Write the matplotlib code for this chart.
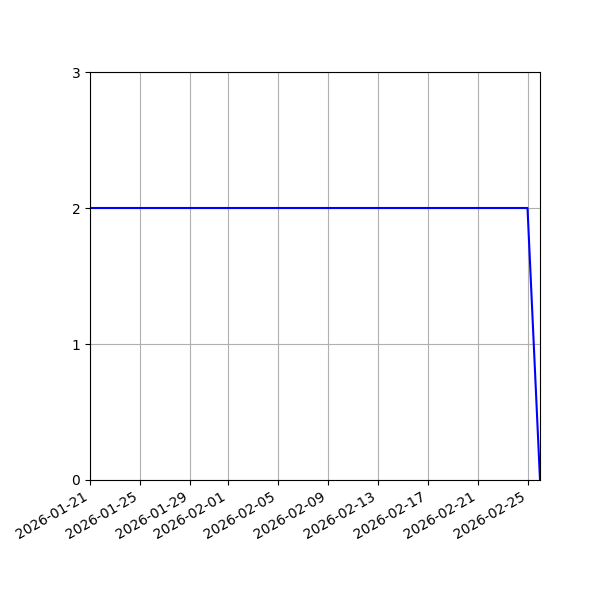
import matplotlib
matplotlib.use('Agg')
import matplotlib.pyplot as plt
import matplotlib.dates as mdates
from datetime import datetime

# readings taken off the chart
dates = ['2026-01-21', '2026-02-25', '2026-02-26']
values = [2, 2, 0]
y_ticks = [0, 1, 2, 3]

days = [datetime.strptime(d, '%Y-%m-%d') for d in dates]

fig, ax = plt.subplots(figsize=(6, 6), dpi=100)
ax.plot(days, values, color='blue')
ax.set_xlim(days[0], days[-1])
ax.set_ylim(0, 3)
ax.set_yticks(y_ticks)
ax.xaxis.set_major_locator(mdates.DayLocator(bymonthday=[1, 5, 9, 13, 17, 21, 25, 29]))
ax.xaxis.set_major_formatter(mdates.DateFormatter('%Y-%m-%d'))
ax.grid(True)
fig.autofmt_xdate()
fig.subplots_adjust(left=0.15)

fig.savefig('out.png')
